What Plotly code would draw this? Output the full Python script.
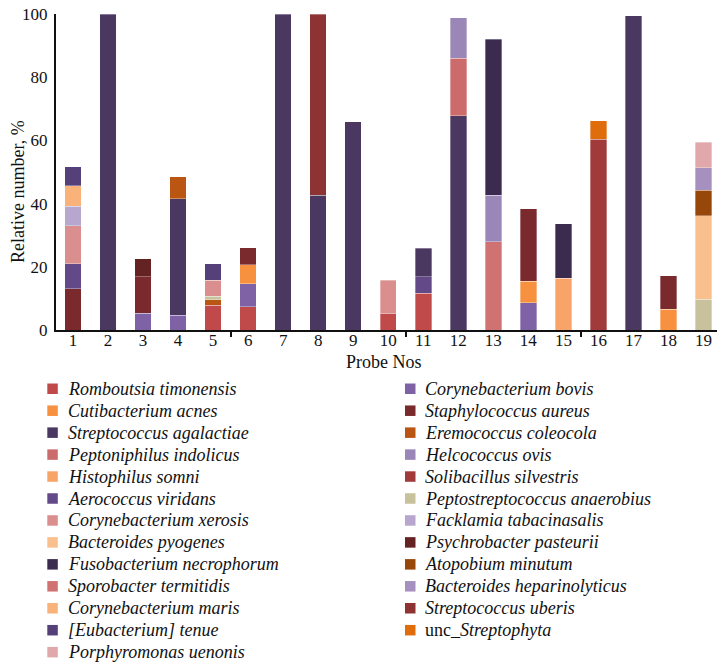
import plotly.graph_objects as go

# ---------------- data ----------------
probes = list(range(1, 20))
tick_labels = [str(p) for p in probes]

# relative number, % per probe (probe 1 .. 19)
romboutsia_timonensis = [0, 0, 0, 0, 7.8, 7.4, 0, 0, 0, 5.1, 11.6, 0, 0, 0, 0, 0, 0, 0, 0]
corynebacterium_bovis = [0, 0, 5.3, 4.7, 0, 7.3, 0, 0, 0, 0, 0, 0, 0, 8.6, 0, 0, 0, 0, 0]
cutibacterium_acnes = [0, 0, 0, 0, 0, 5.9, 0, 0, 0, 0, 0, 0, 0, 6.9, 0, 0, 0, 6.5, 0]
staphylococcus_aureus = [13.1, 0, 11.6, 0, 0, 5.5, 0, 0, 0, 0, 0, 0, 0, 22.8, 0, 0, 0, 10.7, 0]
psychrobacter_pasteurii = [0, 0, 5.6, 0, 0, 0, 0, 0, 0, 0, 0, 0, 0, 0, 0, 0, 0, 0, 0]
aerococcus_viridans = [7.9, 0, 0, 0, 0, 0, 0, 0, 0, 0, 5.3, 0, 0, 0, 0, 0, 0, 0, 0]
streptococcus_agalactiae = [0, 100, 0, 36.8, 0, 0, 100, 42.7, 65.9, 0, 9.0, 67.8, 0, 0, 0, 0, 99.4, 0, 0]
streptococcus_uberis = [0, 0, 0, 0, 0, 0, 0, 57.3, 0, 0, 0, 0, 0, 0, 0, 0, 0, 0, 0]
eremococcus_coleocola = [0, 0, 0, 7.0, 1.7, 0, 0, 0, 0, 0, 0, 0, 0, 0, 0, 0, 0, 0, 0]
peptostreptococcus_anaerobius = [0, 0, 0, 0, 1.2, 0, 0, 0, 0, 0, 0, 0, 0, 0, 0, 0, 0, 0, 9.7]
corynebacterium_xerosis = [12.0, 0, 0, 0, 5.0, 0, 0, 0, 0, 10.6, 0, 0, 0, 0, 0, 0, 0, 0, 0]
facklamia_tabacinasalis = [6.1, 0, 0, 0, 0, 0, 0, 0, 0, 0, 0, 0, 0, 0, 0, 0, 0, 0, 0]
corynebacterium_maris = [6.5, 0, 0, 0, 0, 0, 0, 0, 0, 0, 0, 0, 0, 0, 0, 0, 0, 0, 0]
bacteroides_pyogenes = [0, 0, 0, 0, 0, 0, 0, 0, 0, 0, 0, 0, 0, 0, 0, 0, 0, 0, 26.5]
eubacterium_tenue = [6.1, 0, 0, 0, 5.3, 0, 0, 0, 0, 0, 0, 0, 0, 0, 0, 0, 0, 0, 0]
atopobium_minutum = [0, 0, 0, 0, 0, 0, 0, 0, 0, 0, 0, 0, 0, 0, 0, 0, 0, 0, 8.1]
bacteroides_heparinolyticus = [0, 0, 0, 0, 0, 0, 0, 0, 0, 0, 0, 0, 0, 0, 0, 0, 0, 0, 7.1]
porphyromonas_uenonis = [0, 0, 0, 0, 0, 0, 0, 0, 0, 0, 0, 0, 0, 0, 0, 0, 0, 0, 8.0]
peptoniphilus_indolicus = [0, 0, 0, 0, 0, 0, 0, 0, 0, 0, 0, 18.2, 0, 0, 0, 0, 0, 0, 0]
sporobacter_termitidis = [0, 0, 0, 0, 0, 0, 0, 0, 0, 0, 0, 0, 28.0, 0, 0, 0, 0, 0, 0]
helcococcus_ovis = [0, 0, 0, 0, 0, 0, 0, 0, 0, 0, 0, 12.8, 14.7, 0, 0, 0, 0, 0, 0]
histophilus_somni = [0, 0, 0, 0, 0, 0, 0, 0, 0, 0, 0, 0, 0, 0, 16.4, 0, 0, 0, 0]
fusobacterium_necrophorum = [0, 0, 0, 0, 0, 0, 0, 0, 0, 0, 0, 0, 49.3, 0, 17.2, 0, 0, 0, 0]
solibacillus_silvestris = [0, 0, 0, 0, 0, 0, 0, 0, 0, 0, 0, 0, 0, 0, 0, 60.4, 0, 0, 0]
unc_streptophyta = [0, 0, 0, 0, 0, 0, 0, 0, 0, 0, 0, 0, 0, 0, 0, 5.8, 0, 0, 0]

# legend labels (two columns, as in the reference)
legend_left = [
    "Romboutsia timonensis", "Cutibacterium acnes", "Streptococcus agalactiae",
    "Peptoniphilus indolicus", "Histophilus somni", "Aerococcus viridans",
    "Corynebacterium xerosis", "Bacteroides pyogenes", "Fusobacterium necrophorum",
    "Sporobacter termitidis", "Corynebacterium maris", "[Eubacterium] tenue",
    "Porphyromonas uenonis",
]
legend_right = [
    "Corynebacterium bovis", "Staphylococcus aureus", "Eremococcus coleocola",
    "Helcococcus ovis", "Solibacillus silvestris", "Peptostreptococcus anaerobius",
    "Facklamia tabacinasalis", "Psychrobacter pasteurii", "Atopobium minutum",
    "Bacteroides heparinolyticus", "Streptococcus uberis", "unc_Streptophyta",
]

# ---------------- styling ----------------
colors = {
    "Romboutsia timonensis": "#C0494A",
    "Cutibacterium acnes": "#F7913F",
    "Streptococcus agalactiae": "#4A3861",
    "Peptoniphilus indolicus": "#CC6B6B",
    "Histophilus somni": "#F8A468",
    "Aerococcus viridans": "#634988",
    "Corynebacterium xerosis": "#DA8E8E",
    "Bacteroides pyogenes": "#F9C08E",
    "Fusobacterium necrophorum": "#3B2B4F",
    "Sporobacter termitidis": "#D07272",
    "Corynebacterium maris": "#F8B27A",
    "[Eubacterium] tenue": "#56407A",
    "Porphyromonas uenonis": "#E0A8AB",
    "Corynebacterium bovis": "#7F62A6",
    "Staphylococcus aureus": "#7A2A2C",
    "Eremococcus coleocola": "#BA5512",
    "Helcococcus ovis": "#9B86B8",
    "Solibacillus silvestris": "#A13A3A",
    "Peptostreptococcus anaerobius": "#C8C29C",
    "Facklamia tabacinasalis": "#B7A6CE",
    "Psychrobacter pasteurii": "#652223",
    "Atopobium minutum": "#964709",
    "Bacteroides heparinolyticus": "#A690C0",
    "Streptococcus uberis": "#8E3334",
    "unc_Streptophyta": "#E06D0C",
}

# stacking order (bottom -> top)
stack = [
    ("Romboutsia timonensis", romboutsia_timonensis),
    ("Corynebacterium bovis", corynebacterium_bovis),
    ("Cutibacterium acnes", cutibacterium_acnes),
    ("Staphylococcus aureus", staphylococcus_aureus),
    ("Psychrobacter pasteurii", psychrobacter_pasteurii),
    ("Aerococcus viridans", aerococcus_viridans),
    ("Streptococcus agalactiae", streptococcus_agalactiae),
    ("Streptococcus uberis", streptococcus_uberis),
    ("Eremococcus coleocola", eremococcus_coleocola),
    ("Peptostreptococcus anaerobius", peptostreptococcus_anaerobius),
    ("Corynebacterium xerosis", corynebacterium_xerosis),
    ("Facklamia tabacinasalis", facklamia_tabacinasalis),
    ("Corynebacterium maris", corynebacterium_maris),
    ("Bacteroides pyogenes", bacteroides_pyogenes),
    ("[Eubacterium] tenue", eubacterium_tenue),
    ("Atopobium minutum", atopobium_minutum),
    ("Bacteroides heparinolyticus", bacteroides_heparinolyticus),
    ("Porphyromonas uenonis", porphyromonas_uenonis),
    ("Peptoniphilus indolicus", peptoniphilus_indolicus),
    ("Sporobacter termitidis", sporobacter_termitidis),
    ("Helcococcus ovis", helcococcus_ovis),
    ("Histophilus somni", histophilus_somni),
    ("Fusobacterium necrophorum", fusobacterium_necrophorum),
    ("Solibacillus silvestris", solibacillus_silvestris),
    ("unc_Streptophyta", unc_streptophyta),
]

FONT = "Liberation Serif, Times New Roman, serif"
TXT = "#111111"
W, H = 717, 662
ML, MR, MT, MB = 56, 0, 14, 332
PW, PH = W - ML - MR, H - MT - MB


def px_x(px):
    return (px - ML) / PW


def px_y(py):
    return (H - MB - py) / PH


fig = go.Figure()
for name, vals in stack:
    fig.add_trace(go.Bar(
        x=probes, y=[v if v else None for v in vals], name=name,
        marker=dict(color=colors[name], line=dict(color="rgba(255,255,255,0.55)", width=0.6)),
        showlegend=False,
    ))

# ---------------- hand-drawn legend (two columns) ----------------
shapes, annotations = [], []
row0, dy, sw = 383.5, 21.95, 10.5
for col, (names, sx, tx) in enumerate([(legend_left, 47.3, 65.5), (legend_right, 405.0, 423.0)]):
    for i, name in enumerate(names):
        top = row0 + dy * i
        shapes.append(dict(
            type="rect", xref="paper", yref="paper",
            x0=px_x(sx), x1=px_x(sx + sw), y0=px_y(top + sw), y1=px_y(top),
            fillcolor=colors[name], line=dict(width=0),
        ))
        label = "unc_<i>Streptophyta</i>" if name == "unc_Streptophyta" else f"<i>{name}</i>"
        annotations.append(dict(
            xref="paper", yref="paper", x=px_x(tx), y=px_y(top + sw / 2),
            xanchor="left", yanchor="middle", text=label, showarrow=False,
            font=dict(family=FONT, size=18, color=TXT),
        ))

# axis titles
annotations.append(dict(
    xref="paper", yref="paper", x=px_x(18), y=px_y(192),
    xanchor="center", yanchor="middle", textangle=-90,
    text="Relative number, %", showarrow=False,
    font=dict(family=FONT, size=18, color=TXT),
))
annotations.append(dict(
    xref="paper", yref="paper", x=px_x(384), y=px_y(362),
    xanchor="center", yanchor="middle",
    text="Probe Nos", showarrow=False,
    font=dict(family=FONT, size=18, color=TXT),
))

fig.update_layout(
    width=W, height=H,
    margin=dict(l=ML, r=MR, t=MT, b=MB),
    barmode="stack", bargap=0.53,
    plot_bgcolor="white", paper_bgcolor="white",
    showlegend=False,
    font=dict(family=FONT, size=17, color=TXT),
    shapes=shapes, annotations=annotations,
)
fig.update_xaxes(
    range=[0.515, 19.385], tickmode="array", tickvals=probes, ticktext=tick_labels,
    ticks="", showline=True, linecolor="#111111", linewidth=2,
    showgrid=False, zeroline=False, tickfont=dict(size=17), ticklabelstandoff=-6,
    minor=dict(tickmode="array", tickvals=[5.5, 10.5, 15.5], ticks="outside",
               ticklen=5, tickwidth=2, tickcolor="#111111", showgrid=False),
)
fig.update_yaxes(
    range=[0, 100], tickmode="array", tickvals=[0, 20, 40, 60, 80, 100],
    ticks="", showline=True, linecolor="#111111", linewidth=2,
    showgrid=False, zeroline=False, tickfont=dict(size=17), ticklabelstandoff=3,
)

fig.write_html("out.html", config={"displayModeBar": False},
               post_script="document.body.style.margin='0';")
